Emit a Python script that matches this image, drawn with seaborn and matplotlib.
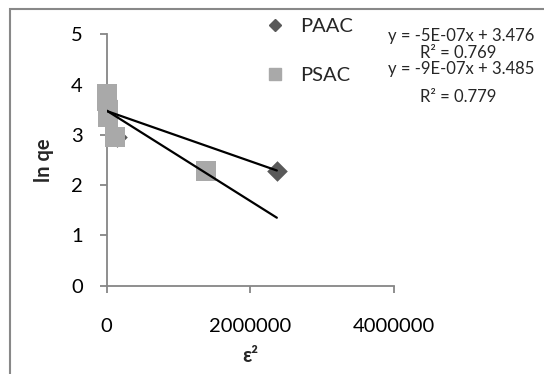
import matplotlib
matplotlib.use("Agg")
import matplotlib.pyplot as plt
import seaborn as sns
import numpy as np
import pandas as pd
from matplotlib.lines import Line2D
from matplotlib.patches import Rectangle

# ---- data ----
paac_x = [0, 5000, 15000, 150000, 2370000]
paac_y = [3.70, 3.52, 3.38, 2.95, 2.29]
psac_x = [0, 5000, 15000, 25000, 118000, 1380000]
psac_y = [3.82, 3.68, 3.50, 3.35, 2.96, 2.28]
series = ["PAAC", "PSAC"]
slopes = [-5e-07, -9e-07]
intercepts = [3.476, 3.485]
eq_labels = ["y = -5E-07x + 3.476", "y = -9E-07x + 3.485"]
r2_labels = ["R² = 0.769", "R² = 0.779"]
x_ticks = [0, 2000000, 4000000]
y_ticks = [0, 1, 2, 3, 4, 5]

sns.set_theme(style="white")
plt.rcParams['font.family'] = ['Lato', 'DejaVu Sans']

df = pd.DataFrame({
    "x": paac_x + psac_x,
    "y": paac_y + psac_y,
    "series": ["PAAC"] * len(paac_x) + ["PSAC"] * len(psac_x),
})

fig = plt.figure(figsize=(5.44, 3.74), dpi=100)
ax = fig.add_axes([106.5 / 544, 1 - 285.7 / 374, (394 - 106.5) / 544, (285.7 - 34.3) / 374])

colors = {"PAAC": "#595959", "PSAC": "#A9A9A9"}
sns.scatterplot(data=df[df.series == "PAAC"], x="x", y="y", color=colors["PAAC"],
                marker="D", s=110, linewidth=0, ax=ax, legend=False, zorder=2,
                clip_on=False)
sns.scatterplot(data=df[df.series == "PSAC"], x="x", y="y", color=colors["PSAC"],
                marker="s", s=210, linewidth=0, ax=ax, legend=False, zorder=3,
                clip_on=False)

xmax = df["x"].max()
for sl, ic in zip(slopes, intercepts):
    xs = np.array([0, xmax])
    sns.lineplot(x=xs, y=sl * xs + ic, color="black", linewidth=1.6, ax=ax, zorder=4)

ax.set_xlim(0, 4000000)
ax.set_ylim(0, 5)
ax.set_xticks(x_ticks)
ax.set_xticklabels([str(t) for t in x_ticks])
ax.set_yticks(y_ticks)
ax.set_yticklabels([str(t) for t in y_ticks])
for s in ["top", "right"]:
    ax.spines[s].set_visible(False)
for s in ["left", "bottom"]:
    ax.spines[s].set_color("#868686")
    ax.spines[s].set_linewidth(1.3)
    ax.spines[s].set_zorder(1)
ax.tick_params(axis="both", which="major", direction="out", length=5, width=1.3,
               color="#868686", labelsize=14.5, labelcolor="black")
ax.tick_params(axis="y", pad=12, left=True)
ax.tick_params(axis="x", pad=18, bottom=True)
ax.set_xlabel("ε²", fontsize=14.5, fontweight="bold", labelpad=8)
ax.set_ylabel("ln qe", fontsize=14.5, fontweight="bold", labelpad=12)
ax.grid(False)

handles = [
    Line2D([], [], marker="D", color=colors["PAAC"], linestyle="none", markersize=6.5),
    Line2D([], [], marker="s", color=colors["PSAC"], linestyle="none", markersize=8),
]
fig.legend(handles, series, loc="upper left", bbox_to_anchor=(255 / 544, 1 - 8 / 374),
           frameon=False, fontsize=14.5, labelspacing=1.6, handletextpad=0.75,
           handlelength=1.0, borderpad=0)

ys_eq = [41, 74]
ys_r2 = [58, 102]
for e, r, ye, yr in zip(eq_labels, r2_labels, ys_eq, ys_r2):
    fig.text(461 / 544, 1 - ye / 374, e, ha="center", va="baseline", fontsize=12)
    fig.text(458 / 544, 1 - yr / 374, r, ha="center", va="baseline", fontsize=12)

fig.patches.append(Rectangle((9.5 / 544, -0.1), 1.2, 1 - 9.5 / 374 + 0.1,
                             transform=fig.transFigure, fill=False,
                             edgecolor="#888888", linewidth=1.5, zorder=0))

fig.savefig("out.png", dpi=100)
